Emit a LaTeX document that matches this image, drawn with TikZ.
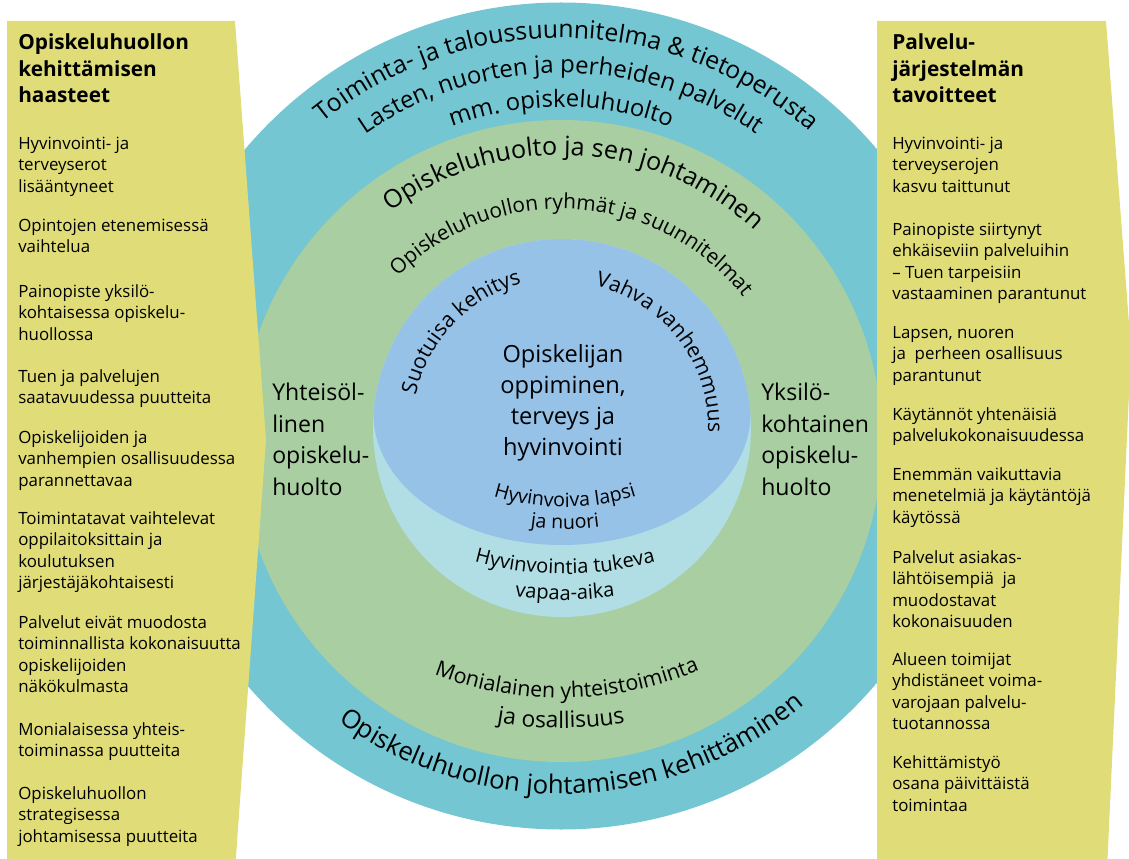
\documentclass[tikz,border=0pt]{standalone}
\usepackage{fontspec}
\setmainfont{Open Sans}
\usepackage{tikz}
\usetikzlibrary{calc,decorations.text}

\definecolor{panelyellow}{RGB}{224,221,120}
\definecolor{ringteal}{RGB}{115,198,210}
\definecolor{ringgreen}{RGB}{169,206,162}
\definecolor{discblue}{RGB}{150,194,232}
\definecolor{disclight}{RGB}{176,222,228}

\newcommand\ringfont{\fontsize{17}{21}\selectfont}
\newcommand\midfont{\fontsize{14.8}{18}\selectfont}
\newcommand\discfont{\fontsize{15.2}{19}\selectfont}
\newcommand\smallarc{\fontsize{13.9}{16}\selectfont}

\begin{document}
\begin{tikzpicture}[x=0.025cm, y=-0.025cm,
    curvetext/.style={decorate, decoration={text along path, text align=center, text={#1}}},
    item/.style={anchor=base west, align=left, inner sep=0pt, font=\fontsize{12}{15.35}\selectfont},
    head/.style={anchor=base west, align=left, inner sep=0pt, font=\bfseries\fontsize{14.8}{18.9}\selectfont},
    side/.style={anchor=base west, align=left, inner sep=0pt, font=\fontsize{16.4}{22.4}\selectfont}]
    \clip (0,0) rectangle (1129,859);

    % centres of the rings
    \coordinate (tc) at (561,416);
    \coordinate (gc) at (561,441);
    \coordinate (bc) at (562,428);
    \coordinate (mc) at (561,342);
    \coordinate (hc) at (565,267);
    \coordinate (vc) at (565,235);

    \fill[ringteal] (tc) circle (413.5);
    \fill[ringgreen] (gc) circle (321);
    \fill[disclight] (bc) circle (189);
    \fill[discblue] (373.5,414) arc[start angle=-175.75, end angle=-4.25, radius=189]
        arc[start angle=0, end angle=180, x radius=188.5, y radius=131] -- cycle;

    % side panels
    \fill[panelyellow] (7,21) -- (235,21) -- (266,440) -- (235,870) -- (7,870) -- cycle;
    \fill[panelyellow] (877,21) -- (1106,21) -- (1131,350) -- (1107,870) -- (877,870) -- cycle;

    % texts on the outer ring
    \path[curvetext={|\fontsize{17.6}{21}\selectfont|Toiminta- ja taloussuunnitelma {\&} tietoperusta}]
        ($(tc)+(-149:378)$) arc[start angle=-149, end angle=-29, radius=378];
    \path[curvetext={|\ringfont|Lasten, nuorten ja perheiden palvelut}]
        ($(tc)+(-145:343)$) arc[start angle=-145, end angle=-35, radius=343];
    \path[curvetext={|\ringfont|mm. opiskeluhuolto}]
        ($(tc)+(-130:309)$) arc[start angle=-130, end angle=-50, radius=309];
    \path[curvetext={|\fontsize{18.3}{21}\selectfont|Opiskeluhuollon johtamisen kehittäminen}]
        ($(tc)+(-220:378)$) arc[start angle=-220, end angle=-324, radius=378];

    % texts on the green ring
    \path[curvetext={|\fontsize{17.9}{21}\selectfont|Opiskeluhuolto ja sen johtaminen}]
        ($(gc)+(-147:286)$) arc[start angle=-147, end angle=-27, radius=286];
    \path[curvetext={|\midfont|Opiskeluhuollon ryhmät ja suunnitelmat}]
        ($(gc)+(-156:232)$) arc[start angle=-156, end angle=-17, radius=232];
    \path[curvetext={|\discfont|Monialainen yhteistoiminta}]
        ($(mc)+(-236:356)$) arc[start angle=-236, end angle=-306, radius=356];
    \path[curvetext={|\fontsize{16.2}{19}\selectfont|ja osallisuus}]
        ($(mc)+(-250:386)$) arc[start angle=-250, end angle=-290, radius=386];

    % texts in the disc
    \path[curvetext={|\discfont|Suotuisa kehitys}]
        ($(bc)+(-182:150)$) arc[start angle=-182, end angle=-91, radius=150];
    \path[curvetext={|\fontsize{15}{19}\selectfont|Vahva vanhemmuus}]
        ($(bc)+(-82:146)$) arc[start angle=-82, end angle=7, radius=146];
    \path[curvetext={|\smallarc|Hyvinvoiva lapsi}]
        ($(hc)+(-238:240)$) arc[start angle=-238, end angle=-302, radius=240];
    \path[curvetext={|\smallarc|ja nuori}]
        ($(hc)+(-250:262)$) arc[start angle=-250, end angle=-290, radius=262];
    \path[curvetext={|\fontsize{14.3}{17}\selectfont|Hyvinvointia tukeva}]
        ($(vc)+(-245:339)$) arc[start angle=-245, end angle=-295, radius=339];
    \path[curvetext={|\fontsize{14.3}{17}\selectfont|vapaa-aika}]
        ($(vc)+(-255:365)$) arc[start angle=-255, end angle=-285, radius=365];

    \node[anchor=base, align=center, inner sep=0pt, font=\fontsize{16.8}{22}\selectfont] (core) at (563,455)
        {Opiskelijan\\oppiminen,\\terveys ja\\hyvinvointi};
    \node[side] (yhteis) at (272,495) {Yhteisöl-\\linen\\opiskelu-\\huolto};
    \node[side] (yksilo) at (761,495) {Yksilö-\\kohtainen\\opiskelu-\\huolto};

    % left panel (y = baseline of the first line)
    \node[head] (lhead) at (18,103) {Opiskeluhuollon\\kehittämisen\\haasteet};
    \foreach \y/\n/\txt [count=\i] in {
        149/3/{Hyvinvointi- ja\\terveyserot\\lisääntyneet},
        231/2/{Opintojen etenemisessä\\vaihtelua},
        297/3/{Painopiste yksilö-\\kohtaisessa opiskelu-\\huollossa},
        382/2/{Tuen ja palvelujen\\saatavuudessa puutteita},
        443/3/{Opiskelijoiden ja\\vanhempien osallisuudessa\\parannettavaa},
        524/4/{Toimintatavat vaihtelevat\\oppilaitoksittain ja\\koulutuksen\\järjestäjäkohtaisesti},
        628/4/{Palvelut eivät muodosta\\toiminnallista kokonaisuutta\\opiskelijoiden\\näkökulmasta},
        735/2/{Monialaisessa yhteis-\\toiminassa puutteita},
        799/3/{Opiskeluhuollon\\strategisessa\\johtamisessa puutteita}}
        \node[item] (left\i) at (18,{\y+(\n-1)*21.6}) {\txt};

    % right panel
    \node[head] (rhead) at (892,103) {Palvelu-\\järjestelmän\\tavoitteet};
    \foreach \y/\n/\txt [count=\i] in {
        149/3/{Hyvinvointi- ja\\terveyserojen\\kasvu taittunut},
        235/4/{Painopiste siirtynyt\\ehkäiseviin palveluihin\\-- Tuen tarpeisiin\\vastaaminen parantunut},
        338/3/{Lapsen, nuoren\\ja\ \ perheen osallisuus\\parantunut},
        420/2/{Käytännöt yhtenäisiä\\palvelukokonaisuudessa},
        480/3/{Enemmän vaikuttavia\\menetelmiä ja käytäntöjä\\käytössä},
        563/4/{Palvelut asiakas-\\lähtöisempiä\ \ ja\\muodostavat\\kokonaisuuden},
        665/4/{Alueen toimijat\\yhdistäneet voima-\\varojaan palvelu-\\tuotannossa},
        768/3/{Kehittämistyö\\osana päivittäistä\\toimintaa}}
        \node[item] (right\i) at (892,{\y+(\n-1)*21.6}) {\txt};
\end{tikzpicture}
\end{document}
